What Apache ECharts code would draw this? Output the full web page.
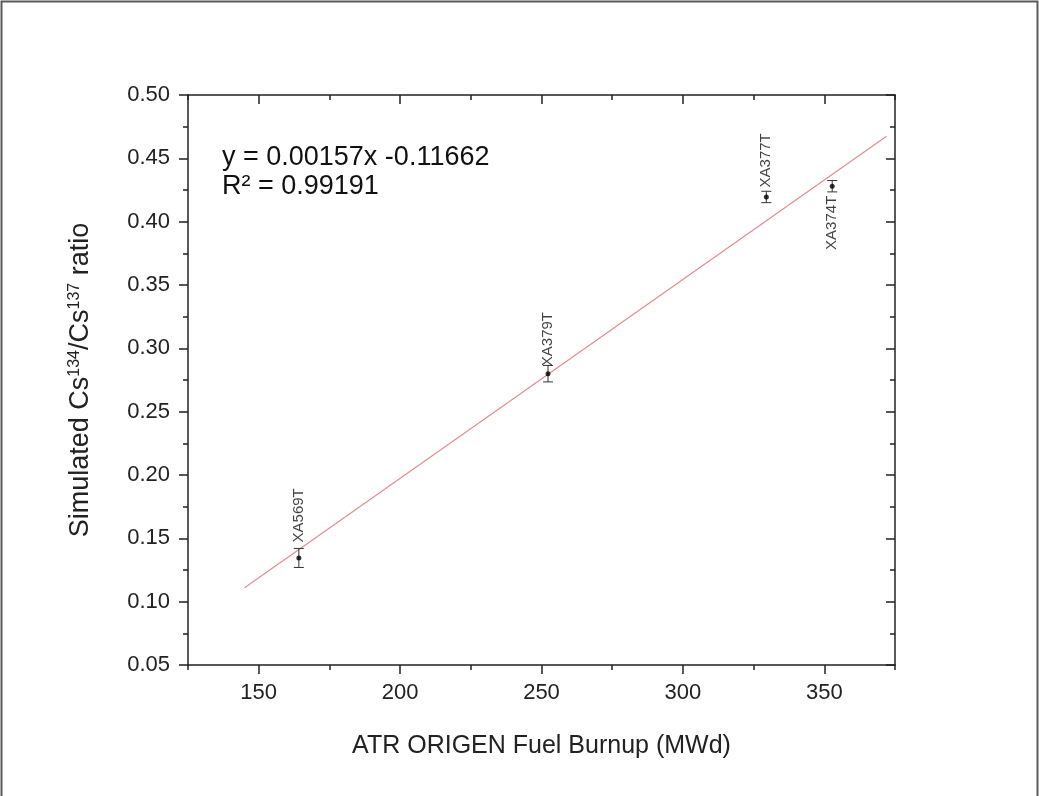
<!DOCTYPE html>
<html>
<head>
<meta charset="utf-8">
<script src="https://cdn.jsdelivr.net/npm/echarts@6/dist/echarts.min.js"></script>
<style>
html,body{margin:0;padding:0;background:#fff;}
#chart{width:1039px;height:796px;}
</style>
</head>
<body>
<div id="chart"></div>
<script>
// ---- data ----
const sampleNames = ['XA569T', 'XA379T', 'XA377T', 'XA374T'];
const burnup = [164.2, 252.3, 329.5, 352.8];
const ratio = [0.1345, 0.2800, 0.4195, 0.4280];
const ratioErr = [0.0075, 0.0065, 0.0045, 0.0045];
const fitSlope = 0.00157;
const fitIntercept = -0.11662;
const fitXRange = [145, 372];
const xMajorTicks = [150, 200, 250, 300, 350];
const equationLines = ['y = 0.00157x -0.11662', 'R\u00b2 = 0.99191'];

const FONT = '"Liberation Sans", Arial, sans-serif';
const AX = '#222';

const pts = burnup.map((x, i) => [x, ratio[i], ratioErr[i]]);
const fitLine = fitXRange.map(x => [x, fitSlope * x + fitIntercept]);

const labelCfg = [
  {position: 'top', distance: 13, align: 'left'},
  {position: 'top', distance: 5, align: 'left'},
  {position: 'top', distance: 7, align: 'left'},
  {position: 'bottom', distance: 7, align: 'right'}
];

const chart = echarts.init(document.getElementById('chart'), null, {renderer: 'canvas'});

const baseX = {type: 'value', min: 125, max: 375, gridIndex: 0, splitLine: {show: false}};
const option = {
  animation: false,
  backgroundColor: '#fff',
  grid: {left: 188, right: 144, top: 95, bottom: 131, containLabel: false},
  xAxis: [
    Object.assign({}, baseX, {
      position: 'bottom',
      axisLine: {show: true, lineStyle: {color: AX, width: 1.5}},
      axisTick: {show: true, length: 9, customValues: xMajorTicks, lineStyle: {color: AX, width: 1.5}},
      axisLabel: {show: true, customValues: xMajorTicks, margin: 17, fontSize: 22, color: AX, fontFamily: FONT},
      name: 'ATR ORIGEN Fuel Burnup (MWd)',
      nameLocation: 'middle', nameGap: 69,
      nameTextStyle: {fontSize: 25, color: AX, fontFamily: FONT}
    }),
    Object.assign({}, baseX, {
      position: 'bottom', interval: 50,
      axisLine: {show: false},
      axisTick: {show: true, length: 5, lineStyle: {color: AX, width: 1.5}},
      axisLabel: {show: false}
    }),
    Object.assign({}, baseX, {
      position: 'top',
      axisLine: {show: true, lineStyle: {color: AX, width: 1.5}},
      axisTick: {show: true, inside: true, length: 9, customValues: xMajorTicks, lineStyle: {color: AX, width: 1.5}},
      axisLabel: {show: false}
    }),
    Object.assign({}, baseX, {
      position: 'top', interval: 50,
      axisLine: {show: false},
      axisTick: {show: true, inside: true, length: 5, lineStyle: {color: AX, width: 1.5}},
      axisLabel: {show: false}
    })
  ],
  yAxis: [
    {
      type: 'value', min: 0.05, max: 0.5, interval: 0.05, position: 'left',
      splitLine: {show: false},
      axisLine: {show: true, lineStyle: {color: AX, width: 1.5}},
      axisTick: {show: true, length: 9, lineStyle: {color: AX, width: 1.5}},
      minorTick: {show: true, splitNumber: 2, length: 5, lineStyle: {color: AX, width: 1.5}},
      axisLabel: {margin: 18, fontSize: 22, color: AX, fontFamily: FONT, formatter: v => v.toFixed(2)},
      name: 'Simulated Cs{sup|134}/Cs{sup|137} ratio',
      nameLocation: 'middle', nameGap: 94, nameRotate: 90,
      nameTextStyle: {
        fontSize: 27, color: AX, fontFamily: FONT,
        rich: {sup: {fontSize: 16, color: AX, fontFamily: FONT, verticalAlign: 'top', padding: [0, 0, 11, 0]}}
      }
    },
    {
      type: 'value', min: 0.05, max: 0.5, interval: 0.05, position: 'right',
      splitLine: {show: false},
      axisLine: {show: true, lineStyle: {color: AX, width: 1.5}},
      axisTick: {show: true, inside: true, length: 9, lineStyle: {color: AX, width: 1.5}},
      minorTick: {show: true, splitNumber: 2, length: 5, lineStyle: {color: AX, width: 1.5}},
      axisLabel: {show: false}
    }
  ],
  graphic: [
    {type: 'rect', z: 100, silent: true,
     shape: {x: 1.5, y: 1.5, width: 1036, height: 820},
     style: {fill: 'none', stroke: '#5a5a5a', lineWidth: 2}},
    {type: 'text', left: 222, top: 144, silent: true,
     style: {text: equationLines[0], fontSize: 27, fill: '#111', fontFamily: FONT}},
    {type: 'text', left: 222, top: 173, silent: true,
     style: {text: equationLines[1], fontSize: 27, fill: '#111', fontFamily: FONT}}
  ],
  series: [
    {
      type: 'line', xAxisIndex: 0, yAxisIndex: 0,
      data: fitLine, symbol: 'none',
      lineStyle: {color: '#e48c8c', width: 1.2}, z: 2
    },
    {
      type: 'custom', xAxisIndex: 0, yAxisIndex: 0, z: 3,
      data: pts,
      renderItem: function (params, api) {
        const x = api.value(0), y = api.value(1), e = api.value(2);
        const t = api.coord([x, y + e]);
        const b = api.coord([x, y - e]);
        const hw = 5;
        const st = {stroke: '#333', lineWidth: 1};
        return {type: 'group', children: [
          {type: 'line', shape: {x1: t[0], y1: t[1], x2: b[0], y2: b[1]}, style: st},
          {type: 'line', shape: {x1: t[0] - hw, y1: t[1], x2: t[0] + hw, y2: t[1]}, style: st},
          {type: 'line', shape: {x1: b[0] - hw, y1: b[1], x2: b[0] + hw, y2: b[1]}, style: st}
        ]};
      }
    },
    {
      type: 'scatter', xAxisIndex: 0, yAxisIndex: 0, z: 4,
      symbol: 'circle', symbolSize: 5,
      itemStyle: {color: '#000'},
      data: pts.map((p, i) => ({
        value: [p[0], p[1]],
        name: sampleNames[i],
        label: {
          show: true, formatter: sampleNames[i], rotate: 90,
          position: labelCfg[i].position, distance: labelCfg[i].distance,
          align: labelCfg[i].align, verticalAlign: 'middle',
          fontSize: 15, color: '#111', fontFamily: FONT
        }
      }))
    }
  ]
};
chart.setOption(option);
</script>
</body>
</html>
